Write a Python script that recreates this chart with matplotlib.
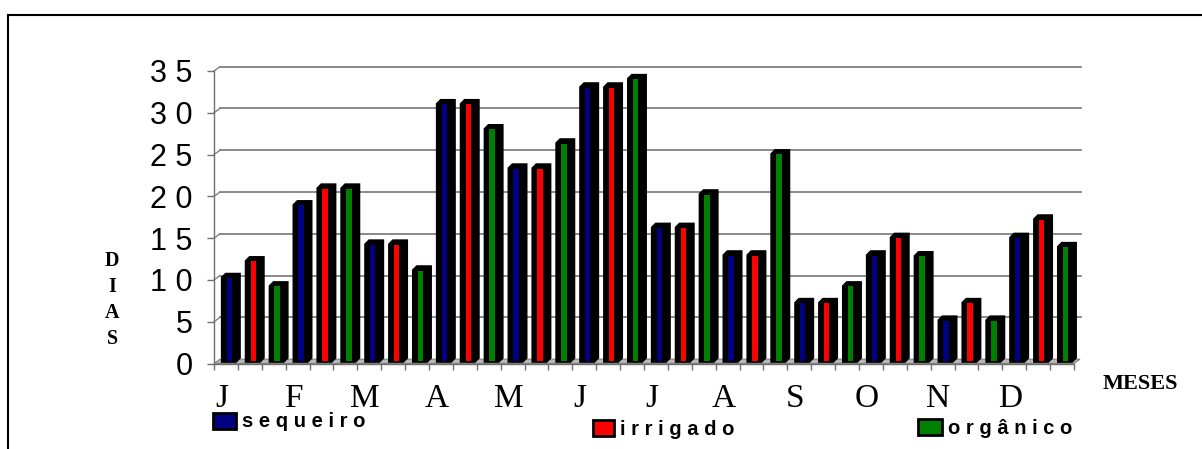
import matplotlib
matplotlib.use("Agg")
import matplotlib.pyplot as plt
from matplotlib.patches import Polygon, Rectangle
from matplotlib.lines import Line2D

# ---- data ----
months = ['J', 'F', 'M', 'A', 'M', 'J', 'J', 'A', 'S', 'O', 'N', 'D']
series_names = ['s e q u e i r o', 'i r r i g a d o', 'o r g â n i c o']
sequeiro = [10.1, 18.8, 14.1, 30.9, 23.2, 32.9, 16.1, 12.8, 7.1, 12.8, 5.0, 14.9]
irrigado = [12.1, 20.8, 14.1, 30.9, 23.2, 32.9, 16.1, 12.8, 7.1, 14.9, 7.1, 17.1]
organico = [9.1, 20.8, 11.0, 27.9, 26.2, 33.9, 20.1, 24.9, 9.1, 12.7, 5.0, 13.8]
y_ticks = [0, 5, 10, 15, 20, 25, 30, 35]
y_ticklabels = ['0', '5', '1 0', '1 5', '2 0', '2 5', '3 0', '3 5']
colors = ['#000080', '#FF0000', '#008000']

W, H = 1202, 449
def fx(px): return px / W
def fy(py): return 1 - py / H

fig = plt.figure(figsize=(W / 100, H / 100), dpi=100)
fig.patch.set_facecolor('white')

ax_l, ax_r, ax_b, ax_t = 214, 1074, 363.5, 71
ax = fig.add_axes([fx(ax_l), fy(ax_b), (ax_r - ax_l) / W, (ax_b - ax_t) / H])
nslots = 3 * len(months)
ax.set_xlim(0, nslots)
ax.set_ylim(0, 35)
ax.set_facecolor('none')
PX = nslots / (ax_r - ax_l)
PY = 35 / (ax_b - ax_t)

axis_gray = '#707070'
grid_gray = '#808080'
for s in ['top', 'right']:
    ax.spines[s].set_visible(False)
ax.spines['left'].set_color(axis_gray)
ax.spines['bottom'].set_color(axis_gray)
ax.spines['left'].set_linewidth(1.0)
ax.spines['bottom'].set_linewidth(1.0)

# back wall gridlines (3D offset)
wdx, wdy = 6 * PX, 4.3 * PY
for v in y_ticks[1:]:
    ax.plot([0, wdx], [v, v + wdy], color=grid_gray, lw=1.0, clip_on=False, zorder=0.5)
    ax.plot([wdx, nslots + 7 * PX], [v + wdy, v + wdy], color=grid_gray, lw=1.3,
            clip_on=False, zorder=0.5)

# floor
floor = Polygon([(0, 0), (nslots, 0), (nslots + wdx, wdy), (wdx, wdy)], closed=True,
                facecolor='#b8b8b8', edgecolor=grid_gray, lw=0.8, clip_on=False, zorder=1)
ax.add_patch(floor)

# bars (pseudo-3D)
bdx, bdy = 4 * PX, 4 * PY
base = 1.5 * PY
for s, vals in enumerate([sequeiro, irrigado, organico]):
    for m, v in enumerate(vals):
        L = 3 * m + s
        x0, x1 = L + 7.7 * PX, L + 22 * PX
        yb, yt = base, v + base
        poly = Polygon([(x0, yb), (x1, yb), (x1 + bdx, yb + bdy), (x1 + bdx, yt + bdy),
                        (x0 + bdx, yt + bdy), (x0, yt)], closed=True,
                       facecolor='black', edgecolor='black', lw=1.2, clip_on=False, zorder=2)
        ax.add_patch(poly)
        ax.add_patch(Rectangle((L + 12.7 * PX, yb + 1.5 * PY), 5.4 * PX, v - 2.0 * PY,
                               facecolor=colors[s], edgecolor='none', clip_on=False, zorder=3))

# ticks
ax.set_yticks(y_ticks)
ax.set_yticklabels(y_ticklabels, fontfamily='Liberation Sans', fontsize=22)
ax.tick_params(axis='y', direction='out', length=5, width=1, color=axis_gray, pad=10.5)
ax.set_xticks(range(nslots + 1))
ax.set_xticklabels([])
ax.tick_params(axis='x', direction='out', length=4.3, width=1, color=axis_gray)

# month labels
for m, lab in enumerate(months):
    ax.text(3 * m + 0.33, -43.2 / (ax_b - ax_t), lab, transform=ax.get_xaxis_transform(),
            ha='center', va='baseline', fontfamily='Liberation Serif', fontsize=24)

# axis titles
fig.text(fx(112), fy(300), 'D\nI\nA\nS', ha='center', va='center', multialignment='center',
         fontfamily='Liberation Serif', fontweight='bold', fontsize=14.5, linespacing=1.42)
fig.text(fx(1103), fy(389), 'MESES', ha='left', va='baseline',
         fontfamily='Liberation Serif', fontweight='bold', fontsize=16)

# legend
leg = [((213, 413, 236, 429), 242, 427),
       ((593, 420, 614, 436), 620, 435),
       ((918, 419, 942, 435), 948, 434)]
for (name, col, ((l, t, r, b), tx, tb)) in zip(series_names, colors, leg):
    fig.patches.append(Rectangle((fx(l), fy(b)), (r - l) / W, (b - t) / H,
                                 transform=fig.transFigure, facecolor=col,
                                 edgecolor='black', lw=2.0))
    fig.text(fx(tx), fy(tb), name, ha='left', va='baseline',
             fontfamily='Liberation Sans', fontweight='bold', fontsize=14.5)

# frame
fig.add_artist(Line2D([fx(8), 1.0], [fy(15), fy(15)], transform=fig.transFigure,
                      color='black', lw=1.5))
fig.add_artist(Line2D([fx(8), fx(8)], [fy(15), 0.0], transform=fig.transFigure,
                      color='black', lw=1.5))

fig.savefig('out.png', dpi=100)
